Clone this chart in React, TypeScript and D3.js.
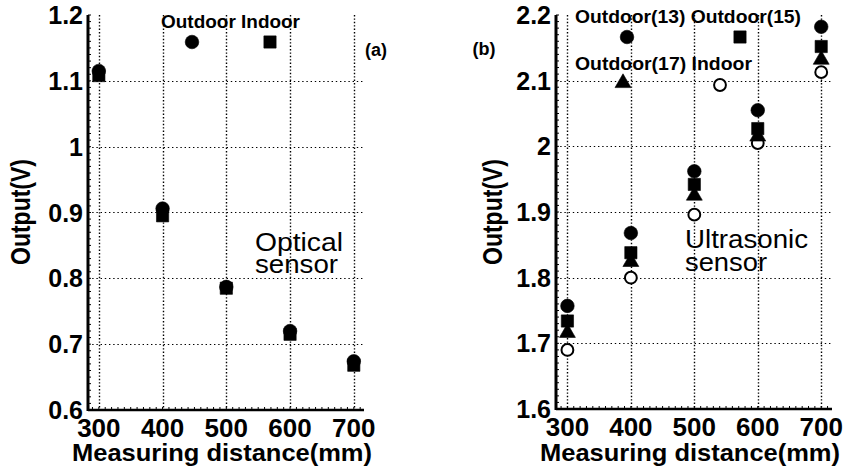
import React from 'react';
import * as d3 from 'd3';

// measuring distances (mm)
const distances = [300, 400, 500, 600, 700];

// (a) optical sensor output (V)
const opticalOutdoor = [1.115, 0.906, 0.787, 0.72, 0.674];
const opticalIndoor = [1.108, 0.895, 0.785, 0.715, 0.668];

// (b) ultrasonic sensor output (V)
const ultraOutdoor13 = [1.757, 1.868, 1.962, 2.055, 2.182];
const ultraOutdoor15 = [1.734, 1.838, 1.942, 2.027, 2.152];
const ultraOutdoor17 = [1.716, 1.824, 1.925, 2.015, 2.132];
const ultraIndoor = [1.69, 1.8, 1.896, 2.005, 2.113];

const xTicks = [300, 400, 500, 600, 700];
const yTicksA = [0.6, 0.7, 0.8, 0.9, 1.0, 1.1, 1.2];
const yTicksB = [1.6, 1.7, 1.8, 1.9, 2.0, 2.1, 2.2];
const yLabelsA = ['0.6', '0.7', '0.8', '0.9', '1', '1.1', '1.2'];
const yLabelsB = ['1.6', '1.7', '1.8', '1.9', '2', '2.1', '2.2'];

const FONT = '"Liberation Sans", Arial, Helvetica, sans-serif';

type Shape = 'circle' | 'square' | 'triangle' | 'open';

const symbolPath = (shape: Shape) => {
  if (shape === 'square') return d3.symbol(d3.symbolSquare, 150)()!;
  if (shape === 'triangle') return d3.symbol(d3.symbolTriangle, 110)()!;
  if (shape === 'open') return d3.symbol(d3.symbolCircle, 110)()!;
  return d3.symbol(d3.symbolCircle, 145)()!;
};

const Marker = ({ x, y, shape }: { x: number; y: number; shape: Shape }) => (
  <path
    d={symbolPath(shape)}
    transform={`translate(${x},${y})`}
    fill={shape === 'open' ? '#fff' : '#000'}
    stroke="#000"
    strokeWidth={shape === 'open' ? 2 : 0.6}
  />
);

interface PanelProps {
  left: number;
  right: number;
  top: number;
  bottom: number;
  xDomain: [number, number];
  yDomain: [number, number];
  yTicks: number[];
  yLabels: string[];
  series: { values: number[]; shape: Shape }[];
  titleX: number;
}

const Panel = ({ left, right, top, bottom, xDomain, yDomain, yTicks, yLabels, series, titleX }: PanelProps) => {
  const x = d3.scaleLinear().domain(xDomain).range([left, right]);
  const y = d3.scaleLinear().domain(yDomain).range([bottom, top]);
  const minorY = d3.range(yDomain[0], yDomain[1] + 0.001, 0.01);
  const minorX = d3.range(290, xDomain[1], 10);

  return (
    <g>
      {/* dotted grid */}
      {xTicks.map(t => {
        const gx = Math.round(x(t)) + 0.5;
        return (
          <line key={'gx' + t} x1={gx} x2={gx} y1={top} y2={bottom}
            stroke="#000" strokeWidth={1.4} strokeDasharray="1.4,2" />
        );
      })}
      {yTicks.slice(1, -1).map(t => {
        const gy = Math.round(y(t)) + 0.5;
        return (
          <line key={'gy' + t} x1={left} x2={right} y1={gy} y2={gy}
            stroke="#000" strokeWidth={1.2} strokeDasharray="1.4,2.8" />
        );
      })}
      {/* minor ticks */}
      {minorY.map((t, i) => (
        <line key={'my' + i} x1={left} x2={left + 3} y1={y(t)} y2={y(t)} stroke="#000" strokeWidth={1} />
      ))}
      {minorX.map((t, i) => (
        <line key={'mx' + i} x1={x(t)} x2={x(t)} y1={bottom} y2={bottom - 3} stroke="#000" strokeWidth={1} />
      ))}
      {/* axes */}
      <line x1={left} x2={left} y1={top} y2={bottom + 1} stroke="#000" strokeWidth={3} />
      <line x1={left} x2={right} y1={bottom} y2={bottom} stroke="#000" strokeWidth={2.5} />
      {yTicks.map((t, i) => (
        <text key={'yl' + t} x={left - 5} y={y(t) + 9} textAnchor="end"
          fontFamily={FONT} fontWeight="bold" fontSize={25}>{yLabels[i]}</text>
      ))}
      {xTicks.map(t => (
        <text key={'xl' + t} x={x(t)} y={y(yDomain[0]) + 27} textAnchor="middle"
          fontFamily={FONT} fontWeight="bold" fontSize={26}>{t}</text>
      ))}
      <text x={(left + right) / 2 - 4} y={461} textAnchor="middle" fontFamily={FONT} fontWeight="bold"
        fontSize={24} textLength={300} lengthAdjust="spacingAndGlyphs">Measuring distance(mm)</text>
      <text transform={`translate(${titleX},212) rotate(-90)`} textAnchor="middle" fontFamily={FONT}
        fontWeight="bold" fontSize={27} textLength={106} lengthAdjust="spacingAndGlyphs">Output(V)</text>
      {/* data */}
      {series.map((s, si) =>
        s.values.map((v, i) => (
          <Marker key={`p${si}-${i}`} x={x(distances[i])} y={y(v)} shape={s.shape} />
        ))
      )}
    </g>
  );
};

const App = () => {
  const legendText = { fontFamily: FONT, fontWeight: 'bold' as const, fontSize: 18 };
  const noteText = { fontFamily: FONT, fontSize: 26 };
  return (
    <svg width={850} height={474} style={{ position: 'absolute', left: 0, top: 0, background: '#fff' }}>
      <Panel left={88} right={364} top={15} bottom={410} xDomain={[283, 716]} yDomain={[0.6, 1.2]}
        yTicks={yTicksA} yLabels={yLabelsA} titleX={30}
        series={[
          { values: opticalIndoor, shape: 'square' },
          { values: opticalOutdoor, shape: 'circle' },
        ]} />
      <Panel left={556} right={832} top={15} bottom={409} xDomain={[282, 717]} yDomain={[1.6, 2.2]}
        yTicks={yTicksB} yLabels={yLabelsB} titleX={502}
        series={[
          { values: ultraIndoor, shape: 'open' },
          { values: ultraOutdoor17, shape: 'triangle' },
          { values: ultraOutdoor15, shape: 'square' },
          { values: ultraOutdoor13, shape: 'circle' },
        ]} />

      {/* (a) legend */}
      <text x={161} y={28} {...legendText} textLength={139} lengthAdjust="spacingAndGlyphs">Outdoor Indoor</text>
      <Marker x={192} y={42} shape="circle" />
      <Marker x={270} y={42} shape="square" />
      <text x={376} y={56} textAnchor="middle" {...legendText}>(a)</text>
      <text x={255} y={251} {...noteText} textLength={88} lengthAdjust="spacingAndGlyphs">Optical</text>
      <text x={255} y={273} {...noteText} textLength={83} lengthAdjust="spacingAndGlyphs">sensor</text>

      {/* (b) legend */}
      <text x={575} y={23} {...legendText} textLength={226} lengthAdjust="spacingAndGlyphs">Outdoor(13) Outdoor(15)</text>
      <Marker x={627} y={37} shape="circle" />
      <Marker x={740} y={37} shape="square" />
      <text x={575} y={70} {...legendText} textLength={177} lengthAdjust="spacingAndGlyphs">Outdoor(17) Indoor</text>
      <Marker x={623} y={83} shape="triangle" />
      <Marker x={720} y={85} shape="open" />
      <text x={484} y={55} textAnchor="middle" {...legendText}>(b)</text>
      <text x={685} y={248} {...noteText} textLength={123} lengthAdjust="spacingAndGlyphs">Ultrasonic</text>
      <text x={685} y={271} {...noteText} textLength={82} lengthAdjust="spacingAndGlyphs">sensor</text>
    </svg>
  );
};

export default App;
